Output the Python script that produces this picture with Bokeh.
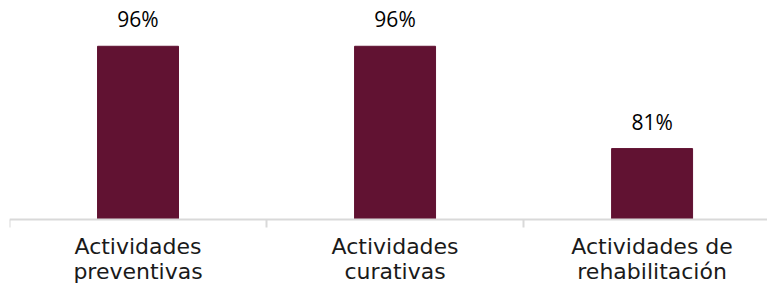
from bokeh.plotting import figure
from bokeh.models import ColumnDataSource, Range1d, FixedTicker, LinearAxis
from bokeh.core.properties import value
from bokeh.embed import file_html
from bokeh.resources import INLINE

categories = ["Actividades\npreventivas", "Actividades\ncurativas", "Actividades de\nrehabilitación"]
values = [96, 96, 81]
value_labels = ["96%", "96%", "81%"]

# value at the baseline of the bars and top of plot
Y0, Y1 = 70.6, 101.54
ppu = 211 / (Y1 - Y0)          # pixels per percentage point
YMIN = Y0 - 68 / ppu           # room below the baseline for category labels

xpos = [i + 0.5 for i in range(len(categories))]
src = ColumnDataSource(dict(x=xpos, top=values, label=value_labels))

p = figure(width=767, height=287, output_backend="svg", toolbar_location=None,
           x_range=Range1d(0, 2.949), y_range=Range1d(YMIN, Y1),
           min_border_left=9, min_border_right=0, min_border_top=8, min_border_bottom=0,
           outline_line_color=None, background_fill_color="white", border_fill_color="white",
           x_axis_location=None, y_axis_location=None)
p.grid.visible = False

p.vbar(x="x", top="top", bottom=Y0, width=0.315, source=src, color="#611232")
p.text(x="x", y="top", text="label", source=src, text_align="center", text_baseline="bottom",
       y_offset=-13, text_font=value("Open Sans"), text_font_size="21px", text_color="#000000")

ax = LinearAxis(ticker=FixedTicker(ticks=xpos, minor_ticks=[0, 1, 2, 3]), fixed_location=Y0)
ax.major_label_overrides = {x: c for x, c in zip(xpos, categories)}
ax.axis_line_color = "#d9d9d9"
ax.axis_line_width = 2
ax.major_tick_line_color = None
ax.major_tick_in = 0
ax.major_tick_out = 0
ax.minor_tick_line_color = "#d9d9d9"
ax.minor_tick_line_width = 2
ax.minor_tick_in = 0
ax.minor_tick_out = 8
ax.major_label_standoff = 6
ax.major_label_text_font = "DejaVu Sans"
ax.major_label_text_font_size = "22px"
ax.major_label_text_color = "#1a1a1a"
ax.major_label_text_line_height = 1.0
p.add_layout(ax, "below")

open("out.html", "w").write(file_html(p, INLINE))
